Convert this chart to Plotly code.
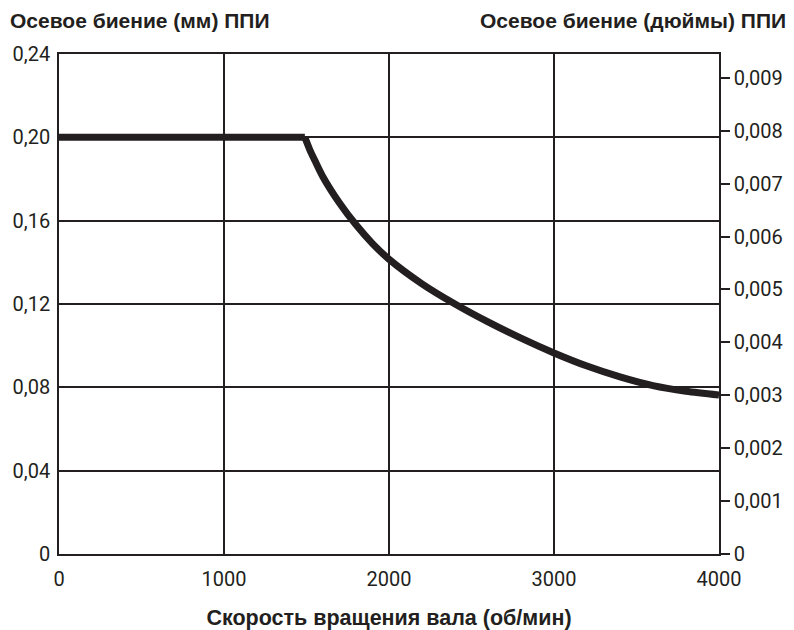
import plotly.graph_objects as go

# Data
flat_rpm = [0, 1490]
flat_mm = [0.200, 0.200]
curve_rpm = [1490, 1520, 1550, 1600, 1700, 1800, 1900, 2000, 2200, 2400,
             2600, 2800, 3000, 3200, 3400, 3600, 3800, 4000]
curve_mm = [0.200, 0.194, 0.189, 0.181, 0.1685, 0.158, 0.149, 0.1415, 0.1297,
            0.1200, 0.1114, 0.1036, 0.0965, 0.0902, 0.0850, 0.0808, 0.0781, 0.0763]

x_ticks = [0, 1000, 2000, 3000, 4000]
x_ticktext = ["0", "1000", "2000", "3000", "4000"]
y_ticks = [0, 0.04, 0.08, 0.12, 0.16, 0.20, 0.24]
y_ticktext = ["0", "0,04", "0,08", "0,12", "0,16", "0,20", "0,24"]
y2_ticks = [0, 0.001, 0.002, 0.003, 0.004, 0.005, 0.006, 0.007, 0.008, 0.009]
y2_ticktext = ["0", "0,001", "0,002", "0,003", "0,004", "0,005", "0,006",
               "0,007", "0,008", "0,009"]

MM_PER_IN = 25.4
ink = "#231f20"
tick_font = dict(family="Roboto, sans-serif", size=20, color=ink)
top_title_font = dict(family="Liberation Sans, Arial, sans-serif", size=21, color=ink)
x_title_font = dict(family="Liberation Sans, Arial, sans-serif", size=21.5, color=ink)

fig = go.Figure()
fig.add_trace(go.Scatter(x=flat_rpm, y=flat_mm, mode="lines",
                         line=dict(color=ink, width=7),
                         showlegend=False, hoverinfo="skip"))
fig.add_trace(go.Scatter(x=curve_rpm, y=curve_mm, mode="lines",
                         line=dict(color=ink, width=7, shape="spline", smoothing=0.8),
                         showlegend=False, hoverinfo="skip"))
# invisible trace to activate the right-hand axis
fig.add_trace(go.Scatter(x=[0], y=[0], yaxis="y2", mode="markers",
                         marker=dict(opacity=0), showlegend=False, hoverinfo="skip"))

fig.update_layout(
    width=794, height=630,
    margin=dict(l=51, r=83, t=46, b=84, autoexpand=False),
    paper_bgcolor="white", plot_bgcolor="white",
    xaxis=dict(range=[0, 4000], tickvals=x_ticks, ticktext=x_ticktext,
               showgrid=True, gridcolor=ink, gridwidth=1.5,
               showline=True, linecolor=ink, linewidth=1.5, mirror=True,
               ticks="", tickfont=tick_font, zeroline=False, ticklabelstandoff=6,
               automargin=False,
               title=dict(text="<b>Скорость вращения вала (об/мин)</b>",
                          font=x_title_font, standoff=20)),
    yaxis=dict(range=[0, 0.24], tickvals=y_ticks, ticktext=y_ticktext,
               showgrid=True, gridcolor=ink, gridwidth=1.5,
               showline=True, linecolor=ink, linewidth=1.5, mirror=True,
               ticks="", tickfont=tick_font, zeroline=False, ticklabelstandoff=3,
               automargin=False),
    yaxis2=dict(range=[0, 0.24 / MM_PER_IN], tickvals=y2_ticks, ticktext=y2_ticktext,
                overlaying="y", side="right", showgrid=False, zeroline=False,
                showline=True, linecolor=ink, linewidth=1.5,
                ticks="outside", ticklen=9, tickwidth=1.5, tickcolor=ink,
                tickfont=tick_font, automargin=False),
    annotations=[
        dict(text="<b>Осевое биение (мм) ППИ</b>", xref="paper", yref="paper",
             x=0, y=1, xanchor="left", yanchor="bottom", xshift=-51, yshift=20,
             showarrow=False, font=top_title_font),
        dict(text="<b>Осевое биение (дюймы) ППИ</b>", xref="paper", yref="paper",
             x=1, y=1, xanchor="right", yanchor="bottom", xshift=69, yshift=20,
             showarrow=False, font=top_title_font),
    ],
)

fig.write_html("out.html")
